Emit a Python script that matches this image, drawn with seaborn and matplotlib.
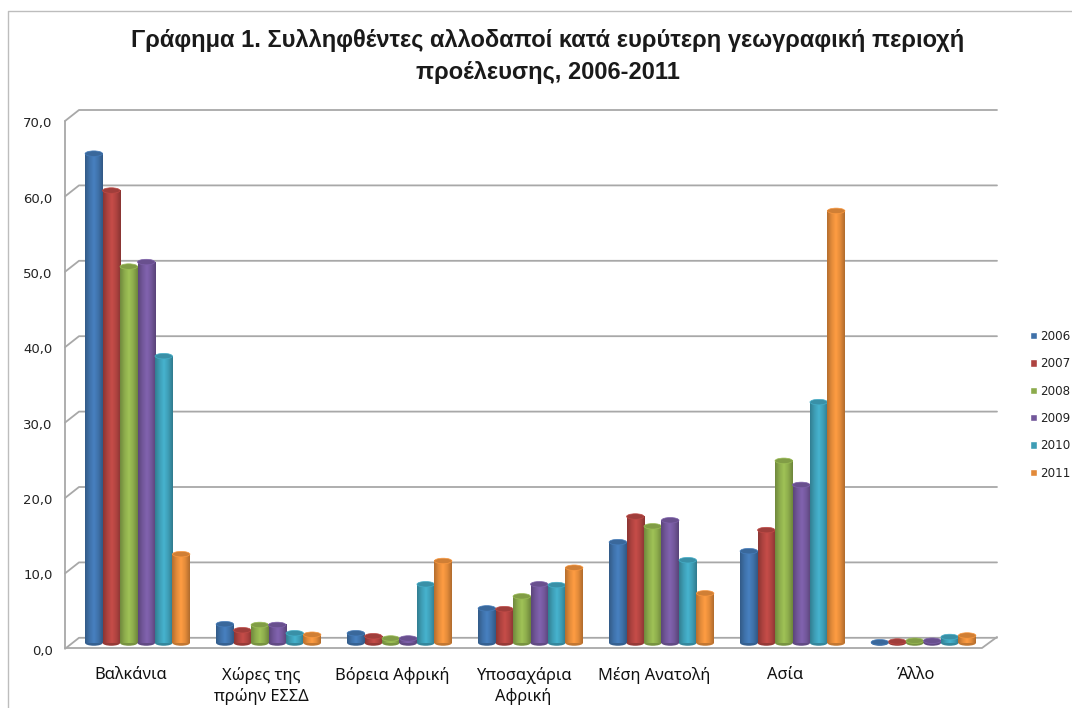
import numpy as np
import pandas as pd
import matplotlib
matplotlib.use('Agg')
import matplotlib.pyplot as plt
import seaborn as sns
from matplotlib.colors import LinearSegmentedColormap, to_rgb
from matplotlib.patches import Ellipse
from matplotlib.transforms import ScaledTranslation

# --- Dados ---
regioes = ['Βαλκάνια', 'Χώρες της\nπρώην ΕΣΣΔ', 'Βόρεια Αφρική', 'Υποσαχάρια\nΑφρική',
           'Μέση Ανατολή', 'Ασία', 'Άλλο']
anos = ['2006', '2007', '2008', '2009', '2010', '2011']
v2006 = [65.0, 2.5, 1.3, 4.6, 13.4, 12.2, 0.1]
v2007 = [60.1, 1.7, 0.9, 4.5, 16.8, 15.0, 0.2]
v2008 = [50.0, 2.4, 0.6, 6.2, 15.5, 24.2, 0.3]
v2009 = [50.6, 2.4, 0.6, 7.8, 16.3, 21.0, 0.3]
v2010 = [38.1, 1.3, 7.8, 7.7, 11.0, 32.0, 0.8]
v2011 = [11.8, 1.1, 10.9, 10.0, 6.6, 57.4, 1.0]
cores = ['#3F71A9', '#AE4340', '#8CAB4C', '#72579A', '#3E9DB5', '#E28A3A']
titulo = 'Γράφημα 1. Συλληφθέντες αλλοδαποί κατά ευρύτερη γεωγραφική περιοχή\nπροέλευσης, 2006-2011'

df = pd.DataFrame({'regiao': regioes * 6,
                   'ano': [a for a in anos for _ in regioes],
                   'valor': v2006 + v2007 + v2008 + v2009 + v2010 + v2011})

sns.set_style('white')
plt.rcParams['font.family'] = ['Noto Sans', 'DejaVu Sans']

W, H = 1072, 708
fig = plt.figure(figsize=(W / 100, H / 100), dpi=100)

# Fundo "3D" desenhado em pixels da figura
bg = fig.add_axes([0, 0, 1, 1], zorder=0)
bg.set_xlim(0, W)
bg.set_ylim(H, 0)
bg.axis('off')
cinza = '#A8A8A8'
for i in range(8):
    yb = 110 + i * 75.4
    bg.plot([65, 79, 997], [yb + 11, yb, yb], color=cinza, lw=1.3)
bg.plot([65, 65], [121, 648], color=cinza, lw=1.3)
bg.plot([65, 982, 997], [648, 648, 637], color=cinza, lw=1.3)
bg.plot([8, 8, W], [H, 11, 11], color='#BDBDBD', lw=1.0)

# Eixo principal no plano médio das barras
x0, x1, y_top, y_base = 72, 989, 116, 643
ax = fig.add_axes([x0 / W, 1 - y_base / H, (x1 - x0) / W, (y_base - y_top) / H], zorder=1)
ax.patch.set_alpha(0)
sns.barplot(data=df, x='regiao', y='valor', hue='ano', palette=cores, width=0.8,
            saturation=1, errorbar=None, ax=ax)
ax.set_ylim(0, 70)
xlim = ax.get_xlim()
ax.set_xlabel('')
ax.set_ylabel('')
ax.set_yticks(range(0, 71, 10))
ax.set_yticklabels([f'{v},0' for v in range(0, 71, 10)], fontsize=9.5, family='DejaVu Sans', color='#222222')
ax.tick_params(axis='y', length=0, pad=14)
ax.tick_params(axis='x', length=0, pad=17, labelsize=11.8, labelcolor='#111111')
sns.despine(ax=ax, left=True, bottom=True)

# Deslocamento dos rótulos para o plano frontal
for lb in ax.get_yticklabels():
    lb.set_transform(lb.get_transform() + ScaledTranslation(0, -6.5 / 100, fig.dpi_scale_trans))
for lb in ax.get_xticklabels():
    lb.set_transform(lb.get_transform() + ScaledTranslation(-7 / 100, 0, fig.dpi_scale_trans))
    lb.set_linespacing(1.35)

# Transformando cada barra num cilindro
elipse = 5.5 / 7.53
barras = [p for c in ax.containers for p in c]
for p in sorted(barras, key=lambda b: b.get_x()):
    cor = np.array(to_rgb(p.get_facecolor()))
    cmap = LinearSegmentedColormap.from_list('c', [cor * 0.8, cor, np.minimum(cor * 1.14, 1), cor, cor * 0.78])
    xa, w, h = p.get_x(), p.get_width(), p.get_height()
    z = 2 + xa
    p.set_visible(False)
    ax.add_patch(Ellipse((xa + w / 2, 0), w, elipse, color=cor * 0.86, zorder=z, lw=0))
    ax.imshow(np.linspace(0, 1, 64)[None, :], extent=(xa, xa + w, 0, h), cmap=cmap,
              aspect='auto', zorder=z + 0.001, interpolation='bilinear')
    ax.add_patch(Ellipse((xa + w / 2, h), w, elipse, color=cor * 0.92, ec=np.minimum(cor * 1.1, 1),
                         lw=0.5, zorder=z + 0.002))
ax.set_xlim(xlim)
ax.set_ylim(0, 70)
for sp in ax.spines.values():
    sp.set_visible(False)
for im in ax.images + ax.patches:
    im.set_clip_on(False)

# Legenda
sns.move_legend(ax, 'upper left', bbox_to_anchor=(1030 / W, 1 - 330 / H), bbox_transform=fig.transFigure,
                title=None, frameon=False, fontsize=8.6, handlelength=0.58, handleheight=0.58,
                handletextpad=0.3, labelspacing=1.2, borderpad=0, borderaxespad=0)
for t in ax.get_legend().get_texts():
    t.set_family('DejaVu Sans')
    t.set_color('#222222')

fig.text(548 / W, 1 - 56.5 / H, titulo, ha='center', va='center', fontsize=17, fontweight='bold',
         family='Liberation Sans', color='#1a1a1a', linespacing=1.45)

fig.savefig('out.png', dpi=100)
